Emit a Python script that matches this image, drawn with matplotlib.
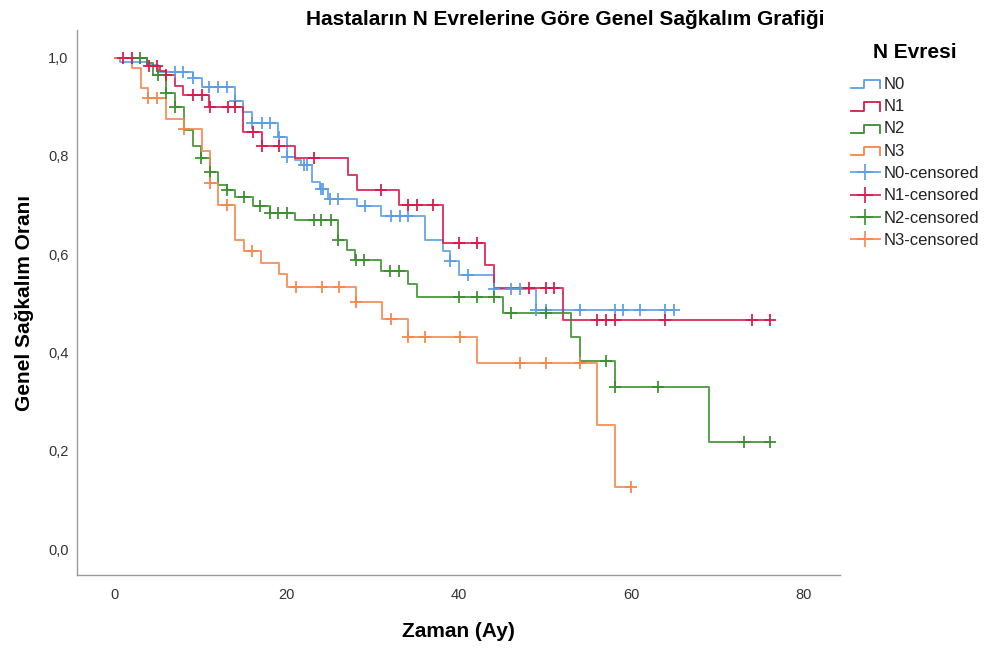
import matplotlib
matplotlib.use("Agg")
import matplotlib.pyplot as plt
import numpy as np
from matplotlib.legend_handler import HandlerBase
from matplotlib.lines import Line2D
from matplotlib.ticker import FuncFormatter

plt.rcParams['font.family'] = ['Liberation Sans', 'DejaVu Sans']

# Kaplan-Meier steps: event times (months) and survival after each step
n0_t = [0, 0.6, 3.9, 5.0, 9.1, 10.1, 14.0, 14.9, 15.9, 19.0, 20.0, 20.9, 21.7, 22.9, 23.8,
        24.8, 28.1, 31.0, 36.0, 38.1, 39.0, 40.0, 44.1, 49.0]
n0_s = [1.0, 0.991, 0.985, 0.971, 0.958, 0.941, 0.912, 0.89, 0.866, 0.839, 0.798, 0.791, 0.781,
        0.747, 0.732, 0.713, 0.697, 0.678, 0.629, 0.607, 0.585, 0.557, 0.53, 0.486]
n0_c = [7.0, 7.9, 9.1, 11.0, 12.0, 13.0, 14.0, 15.9, 17.1, 18.0, 19.1, 20.0, 22.0, 22.3, 24.0,
        24.2, 25.0, 26.0, 29.1, 32.1, 33.1, 34.1, 39.0, 41.1, 44.1, 46.1, 47.1, 49.0, 50.1,
        54.1, 58.1, 59.1, 61.1, 64.0, 65.0]

n1_t = [0, 3.7, 5.2, 5.9, 7.0, 7.9, 11.0, 14.9, 17.1, 20.9, 27.1, 28.1, 33.0, 38.1, 43.0,
        44.1, 52.1]
n1_s = [1.0, 0.983, 0.973, 0.964, 0.943, 0.924, 0.90, 0.849, 0.82, 0.795, 0.761, 0.73, 0.70,
        0.622, 0.578, 0.532, 0.466]
n1_c = [1.0, 2.0, 4.0, 4.9, 6.0, 9.1, 10.1, 11.1, 13.2, 14.0, 16.1, 17.1, 19.1, 23.1, 31.0,
        34.1, 35.1, 37.0, 40.0, 42.1, 48.1, 50.1, 51.0, 56.1, 57.1, 58.1, 64.0, 74.1, 76.2]

n2_t = [0, 3.7, 4.5, 6.0, 7.0, 8.0, 9.1, 10.0, 11.1, 12.0, 13.0, 14.0, 16.1, 18.0, 21.0,
        26.0, 27.0, 27.9, 31.0, 34.1, 35.1, 45.1, 53.0, 54.1, 58.1, 69.1]
n2_s = [1.0, 0.988, 0.964, 0.927, 0.899, 0.852, 0.82, 0.795, 0.768, 0.741, 0.73, 0.716, 0.698,
        0.683, 0.669, 0.629, 0.608, 0.588, 0.566, 0.539, 0.513, 0.48, 0.431, 0.383, 0.329,
        0.218]
n2_c = [2.9, 5.0, 6.0, 7.0, 10.0, 11.1, 13.0, 15.0, 16.9, 18.0, 19.0, 20.0, 23.1, 24.0, 25.1,
        26.0, 28.0, 29.0, 32.0, 33.0, 40.0, 42.1, 44.1, 46.1, 50.1, 57.1, 58.1, 63.1, 73.1,
        76.2]

n3_t = [0, 2.0, 3.0, 3.9, 5.9, 8.0, 10.1, 11.1, 12.0, 14.0, 15.0, 17.0, 19.1, 20.0, 28.0,
        31.1, 34.1, 42.1, 56.1, 58.1]
n3_s = [1.0, 0.978, 0.937, 0.917, 0.875, 0.854, 0.81, 0.744, 0.70, 0.629, 0.607, 0.581, 0.56,
        0.534, 0.502, 0.469, 0.432, 0.378, 0.252, 0.126]
n3_c = [3.9, 4.9, 8.0, 11.1, 13.0, 16.0, 21.1, 24.1, 26.1, 28.0, 32.1, 34.1, 36.0, 40.1,
        47.1, 50.1, 54.1, 60.0]

groups = ['N0', 'N1', 'N2', 'N3']
colors = ['#5b9de6', '#d8194b', '#3b8e2f', '#f5864a']
x_ticks = [0, 20, 40, 60, 80]
y_ticks = [0.0, 0.2, 0.4, 0.6, 0.8, 1.0]


class StepHandler(HandlerBase):
    # the little step icon SPSS draws for the survival lines
    def create_artists(self, legend, orig_handle, xdescent, ydescent, width, height,
                       fontsize, trans):
        x = np.array([0, 0.45, 0.45, 1.0, 1.0]) * width - xdescent
        y = np.array([0.05, 0.05, 0.75, 0.75, 0.05]) * height - ydescent
        ln = Line2D(x, y, color=orig_handle.get_color(), lw=1.3, transform=trans)
        return [ln]


fig = plt.figure(figsize=(9.86, 6.52), dpi=100)
ax = fig.add_axes([0.078, 0.118, 0.774, 0.836])

data = [(n0_t, n0_s, n0_c), (n1_t, n1_s, n1_c), (n2_t, n2_s, n2_c), (n3_t, n3_s, n3_c)]
step_handles = []
cens_handles = []
for (t, s, c), name, col in zip(data, groups, colors):
    t = np.array(t)
    s = np.array(s)
    c = np.array(c)
    end = max(t[-1], c.max())
    tt = np.append(t, end)
    ss = np.append(s, s[-1])
    h, = ax.step(tt, ss, where='post', color=col, lw=1.4, alpha=0.85, zorder=2)
    idx = np.searchsorted(t, c, side='right') - 1
    ax.plot(c, s[idx], ls='none', marker='+', ms=9, mew=1.4, color=col, alpha=0.9, zorder=3)
    step_handles.append(h)
    cens_handles.append(Line2D([], [], color=col, lw=1.4, marker='+', ms=11, mew=1.4,
                               alpha=0.85))

ax.set_xlim(-4.4, 84.3)
ax.set_ylim(-0.053, 1.056)
ax.set_xticks(x_ticks)
ax.set_yticks(y_ticks)
ax.yaxis.set_major_formatter(FuncFormatter(lambda v, p: f"{v:.1f}".replace('.', ',')))
ax.tick_params(length=0, labelsize=10.5, labelcolor='#333333')
ax.tick_params(axis='y', pad=6)
ax.tick_params(axis='x', pad=9)
for side in ['top', 'right']:
    ax.spines[side].set_visible(False)
for side in ['left', 'bottom']:
    ax.spines[side].set_color('#9a9a9a')
    ax.spines[side].set_linewidth(1.0)

ax.set_xlabel('Zaman (Ay)', fontsize=15, fontweight='bold', labelpad=15)
ax.set_ylabel('Genel Sağkalım Oranı', fontsize=15, fontweight='bold', labelpad=10)
fig.text(0.573, 0.97, 'Hastaların N Evrelerine Göre Genel Sağkalım Grafiği',
         ha='center', va='center', fontsize=15, fontweight='bold')

labels = groups + [g + '-censored' for g in groups]
hmap = {h: StepHandler() for h in step_handles}
leg = fig.legend(step_handles + cens_handles, labels, loc='upper left',
                 bbox_to_anchor=(0.856, 0.945), frameon=False, fontsize=12,
                 title='N Evresi', title_fontproperties={'weight': 'bold', 'size': 15},
                 handlelength=1.75, handletextpad=0.2, labelspacing=0.44,
                 borderaxespad=0.0, handler_map=hmap)
leg._legend_box.sep = 11
for txt in leg.get_texts():
    txt.set_color('#222222')

fig.savefig('out.png', dpi=100)
